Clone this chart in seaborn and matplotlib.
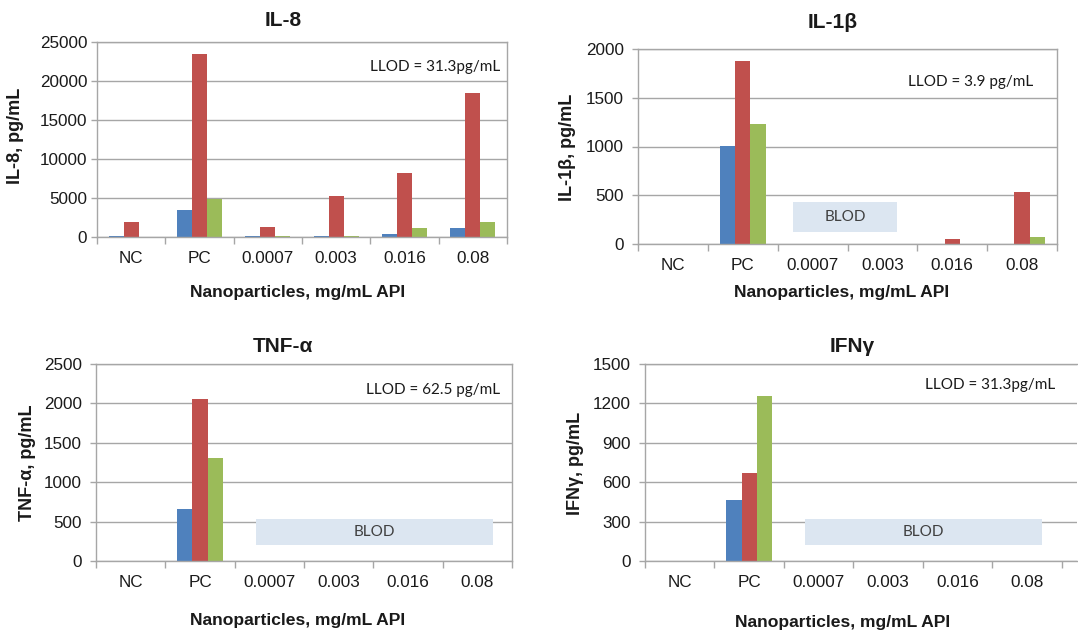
import numpy as np
import pandas as pd
import matplotlib
matplotlib.use("Agg")
import matplotlib.pyplot as plt
from matplotlib.patches import Rectangle
import seaborn as sns

# ---- data -------------------------------------------------------------
categories = ["NC", "PC", "0.0007", "0.003", "0.016", "0.08"]
series = ["Series 1", "Series 2", "Series 3"]

il8_s1 = [150, 3400, 100, 100, 340, 1200]
il8_s2 = [1950, 23450, 1330, 5300, 8250, 18450]
il8_s3 = [0, 4900, 100, 100, 1200, 1920]

il1b_s1 = [0, 1005, 0, 0, 0, 0]
il1b_s2 = [0, 1877, 0, 0, 52, 530]
il1b_s3 = [0, 1230, 0, 0, 0, 72]

tnfa_s1 = [0, 655, 0, 0, 0, 0]
tnfa_s2 = [0, 2055, 0, 0, 0, 0]
tnfa_s3 = [0, 1310, 0, 0, 0, 0]

ifng_s1 = [0, 463, 0, 0, 0, 0]
ifng_s2 = [0, 672, 0, 0, 0, 0]
ifng_s3 = [0, 1258, 0, 0, 0, 0]

il8_ticks = [0, 5000, 10000, 15000, 20000, 25000]
il1b_ticks = [0, 500, 1000, 1500, 2000]
tnfa_ticks = [0, 500, 1000, 1500, 2000, 2500]
ifng_ticks = [0, 300, 600, 900, 1200, 1500]

# ---- style --------------------------------------------------------------
colors = ["#4F81BD", "#C0504D", "#9BBB59"]
GRID = "#a6a6a6"
TXT = "#1a1a1a"

sns.set_style("white")
plt.rcParams["font.family"] = ["Liberation Sans", "DejaVu Sans"]

W, H = 1078, 632
fig = plt.figure(figsize=(W / 100, H / 100), dpi=100)


def rect(left, right, top, bottom):
    return [left / W, 1 - bottom / H, (right - left) / W, (bottom - top) / H]


def fx(x):
    return x / W


def fy(y):
    return 1 - y / H


panels = [
    dict(box=(97, 507, 42, 237), s=(il8_s1, il8_s2, il8_s3), ticks=il8_ticks,
         title="IL-8", title_xy=(283, 21), ylabel="IL-8, pg/mL", ylabel_xy=(16, 136),
         xlabel_xy=(298, 293), llod="LLOD = 31.3pg/mL", llod_xy=(500, 67),
         blod=None, xmax=5.5, ypad=7),
    dict(box=(638, 1057, 49, 244), s=(il1b_s1, il1b_s2, il1b_s3), ticks=il1b_ticks,
         title="IL-1β", title_xy=(833, 22), ylabel="IL-1β, pg/mL", ylabel_xy=(568, 147),
         xlabel_xy=(842, 293), llod="LLOD = 3.9 pg/mL", llod_xy=(1033, 82),
         blod=(1.72, 3.21, 120, 427), xmax=5.5, ypad=10),
    dict(box=(96, 512, 364, 561), s=(tnfa_s1, tnfa_s2, tnfa_s3), ticks=tnfa_ticks,
         title="TNF-α", title_xy=(283, 347), ylabel="TNF-α, pg/mL", ylabel_xy=(27, 463),
         xlabel_xy=(298, 620), llod="LLOD = 62.5 pg/mL", llod_xy=(500, 390),
         blod=(1.81, 5.23, 200, 530), xmax=5.5, ypad=10),
    dict(box=(645, 1077, 364, 561), s=(ifng_s1, ifng_s2, ifng_s3), ticks=ifng_ticks,
         title="IFNγ", title_xy=(852, 347), ylabel="IFNγ, pg/mL", ylabel_xy=(575, 463),
         xlabel_xy=(843, 622), llod="LLOD = 31.3pg/mL", llod_xy=(1055, 385),
         blod=(1.81, 5.22, 120, 318), xmax=5.72, ypad=10),
]

for p in panels:
    ax = fig.add_axes(rect(*p["box"]))
    s1, s2, s3 = p["s"]
    df = pd.DataFrame({
        "category": categories * 3,
        "series": np.repeat(series, len(categories)),
        "value": list(s1) + list(s2) + list(s3),
    })
    sns.barplot(data=df, x="category", y="value", hue="series",
                order=categories, hue_order=series, palette=colors,
                width=0.66, gap=0, linewidth=0, saturation=1,
                errorbar=None, legend=False, ax=ax)

    ticks = p["ticks"]
    ax.set_ylim(0, ticks[-1])
    ax.set_yticks(ticks)
    ax.set_xlim(-0.5, p["xmax"])
    ax.set_xlabel("")
    ax.set_ylabel("")
    ax.yaxis.grid(True, color=GRID, lw=1)
    ax.xaxis.grid(False)
    ax.set_axisbelow(True)
    for sp in ax.spines.values():
        sp.set_color(GRID)
        sp.set_linewidth(1)
    if p["xmax"] > 5.5:
        ax.spines["right"].set_visible(False)

    # category labels centred, tick marks on the category boundaries
    ax.set_xticks(range(len(categories)))
    ax.set_xticklabels(categories)
    ax.set_xticks(np.arange(-0.5, len(categories), 1.0), minor=True)
    ax.tick_params(axis="x", which="major", length=0, pad=10,
                   labelsize=12.3, labelcolor=TXT)
    ax.tick_params(axis="x", which="minor", length=5, width=1,
                   color=GRID, direction="out", bottom=True)
    ax.tick_params(axis="y", which="major", length=4, width=1, color=GRID,
                   direction="out", left=True, pad=p["ypad"] - 4,
                   labelsize=12.3, labelcolor=TXT)

    if p["blod"] is not None:
        x0, x1, y0, y1 = p["blod"]
        ax.add_patch(Rectangle((x0, y0), x1 - x0, y1 - y0,
                               facecolor="#dce6f1", edgecolor="none", zorder=3))
        ax.text((x0 + x1) / 2, (y0 + y1) / 2, "BLOD", ha="center", va="center",
                fontsize=11, color="#404040", family=["Lato", "DejaVu Sans"],
                zorder=4)

    fig.text(fx(p["title_xy"][0]), fy(p["title_xy"][1]), p["title"],
             ha="center", va="center", fontsize=15, fontweight="bold", color=TXT)
    fig.text(fx(p["ylabel_xy"][0]), fy(p["ylabel_xy"][1]), p["ylabel"],
             ha="center", va="center", rotation=90, fontsize=13,
             fontweight="bold", color=TXT)
    fig.text(fx(p["xlabel_xy"][0]), fy(p["xlabel_xy"][1]),
             "Nanoparticles, mg/mL API", ha="center", va="center",
             fontsize=12.6, fontweight="bold", color=TXT)
    fig.text(fx(p["llod_xy"][0]), fy(p["llod_xy"][1]), p["llod"],
             ha="right", va="center", fontsize=11, color=TXT,
             family=["Lato", "DejaVu Sans"])

fig.savefig("out.png", dpi=100, facecolor="white")
